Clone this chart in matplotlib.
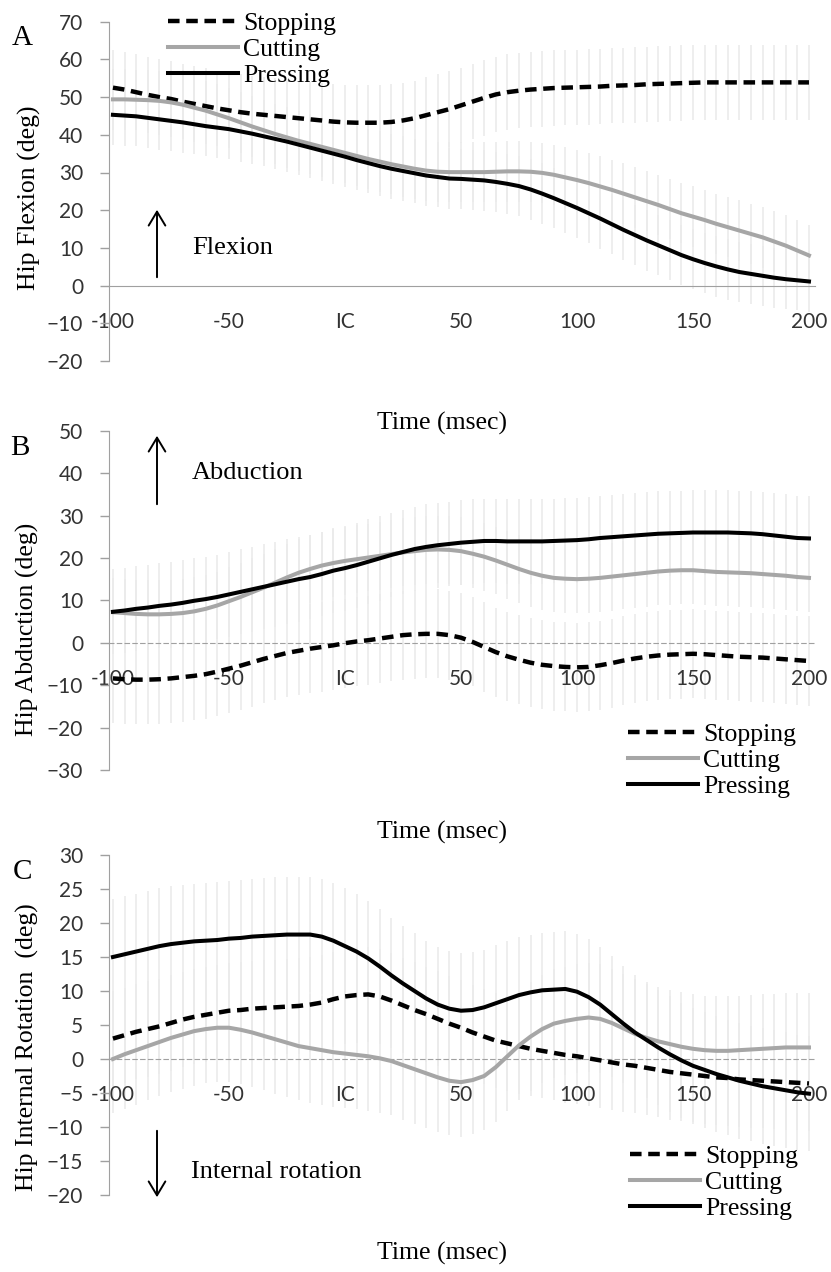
import numpy as np
import matplotlib
matplotlib.use("Agg")
import matplotlib.pyplot as plt

# time axis (ms), one sample every 5 ms
t = np.arange(-100, 201, 5)
tick_pos = [-100, -50, 0, 50, 100, 150, 200]
tick_lab = ["-100", "-50", "IC", "50", "100", "150", "200"]

# Panel A: hip flexion
flex_stop = [52.5, 52.0, 51.3, 50.6, 50.0, 49.5, 48.8, 48.2, 47.6, 47.0, 46.5, 46.0, 45.6, 45.3, 45.0, 44.7,
             44.4, 44.1, 43.8, 43.5, 43.3, 43.2, 43.2, 43.2, 43.4, 43.8, 44.4, 45.2, 46.0, 46.8, 47.8, 48.8,
             49.8, 50.7, 51.3, 51.7, 52.0, 52.2, 52.4, 52.5, 52.6, 52.7, 52.8, 53.0, 53.1, 53.2, 53.4, 53.5,
             53.6, 53.7, 53.8, 53.9, 53.9, 53.9, 53.9, 53.9, 53.9, 53.9, 53.9, 53.9, 53.9]
flex_cut = [49.4, 49.4, 49.3, 49.2, 49.0, 48.6, 48.0, 47.2, 46.4, 45.4, 44.4, 43.3, 42.2, 41.2, 40.2, 39.3,
            38.4, 37.6, 36.8, 36.0, 35.2, 34.4, 33.6, 32.9, 32.2, 31.6, 31.0, 30.5, 30.2, 30.1, 30.1, 30.1,
            30.1, 30.2, 30.3, 30.3, 30.2, 29.9, 29.4, 28.7, 28.0, 27.2, 26.3, 25.4, 24.4, 23.4, 22.4, 21.4,
            20.3, 19.2, 18.3, 17.4, 16.4, 15.5, 14.6, 13.7, 12.8, 11.7, 10.6, 9.3, 8.0]
flex_press = [45.3, 45.1, 44.9, 44.5, 44.1, 43.7, 43.3, 42.8, 42.3, 41.9, 41.5, 40.9, 40.3, 39.6, 38.9, 38.2,
              37.4, 36.6, 35.8, 35.0, 34.2, 33.3, 32.5, 31.7, 31.0, 30.4, 29.8, 29.2, 28.8, 28.4, 28.3, 28.1,
              27.9, 27.5, 27.0, 26.4, 25.5, 24.4, 23.2, 21.9, 20.6, 19.2, 17.8, 16.3, 14.8, 13.4, 12.0, 10.7,
              9.4, 8.1, 7.0, 6.0, 5.1, 4.3, 3.6, 3.1, 2.6, 2.1, 1.7, 1.4, 1.1]
flex_sd = [10, 8, 8]

# Panel B: hip abduction
abd_stop = [-8.4, -8.6, -8.7, -8.7, -8.6, -8.4, -8.1, -7.8, -7.4, -6.8, -6.1, -5.4, -4.6, -3.8, -3.1, -2.4,
            -1.9, -1.4, -1.0, -0.6, -0.1, 0.3, 0.6, 1.0, 1.4, 1.8, 2.0, 2.1, 2.1, 1.8, 1.2, 0.2,
            -1.0, -2.2, -3.2, -4.0, -4.7, -5.2, -5.5, -5.7, -5.8, -5.7, -5.3, -4.8, -4.2, -3.7, -3.3, -3.0,
            -2.8, -2.7, -2.6, -2.7, -2.9, -3.1, -3.3, -3.4, -3.5, -3.7, -3.9, -4.1, -4.3]
abd_cut = [7.2, 7.0, 6.8, 6.7, 6.7, 6.8, 7.0, 7.4, 8.0, 8.8, 9.8, 10.8, 11.9, 13.0, 14.2, 15.4,
           16.5, 17.4, 18.2, 18.8, 19.3, 19.7, 20.1, 20.5, 20.9, 21.3, 21.6, 21.9, 22.0, 21.9, 21.6, 21.0,
           20.3, 19.4, 18.4, 17.4, 16.5, 15.8, 15.3, 15.1, 15.0, 15.1, 15.3, 15.6, 15.9, 16.2, 16.5, 16.8,
           17.0, 17.1, 17.1, 16.9, 16.7, 16.6, 16.5, 16.4, 16.2, 16.0, 15.8, 15.5, 15.3]
abd_press = [7.3, 7.6, 8.0, 8.3, 8.7, 9.0, 9.4, 9.9, 10.3, 10.8, 11.4, 12.0, 12.6, 13.2, 13.8, 14.4,
             15.0, 15.5, 16.2, 17.0, 17.6, 18.3, 19.1, 19.9, 20.7, 21.4, 22.1, 22.6, 23.0, 23.3, 23.6, 23.8,
             24.0, 24.0, 23.9, 23.9, 23.9, 23.9, 24.0, 24.1, 24.2, 24.4, 24.7, 24.9, 25.1, 25.3, 25.5, 25.7,
             25.8, 25.9, 26.0, 26.0, 26.0, 26.0, 25.9, 25.8, 25.6, 25.3, 25.0, 24.7, 24.6]
abd_sd = [10.5, 8, 10]

# Panel C: hip internal rotation
rot_stop = [3.0, 3.5, 4.0, 4.4, 4.8, 5.3, 5.8, 6.2, 6.5, 6.8, 7.1, 7.2, 7.4, 7.5, 7.6, 7.7,
            7.8, 8.0, 8.3, 8.8, 9.2, 9.4, 9.5, 9.2, 8.6, 7.9, 7.2, 6.6, 5.9, 5.2, 4.6, 3.9,
            3.3, 2.7, 2.3, 1.9, 1.5, 1.2, 0.9, 0.6, 0.4, 0.1, -0.2, -0.5, -0.8, -1.0, -1.3, -1.6,
            -1.9, -2.1, -2.3, -2.5, -2.7, -2.8, -3.0, -3.1, -3.2, -3.3, -3.4, -3.5, -3.6]
rot_cut = [0.0, 0.7, 1.3, 1.9, 2.5, 3.1, 3.6, 4.1, 4.4, 4.6, 4.6, 4.3, 3.9, 3.4, 2.9, 2.4,
           1.9, 1.6, 1.3, 1.0, 0.8, 0.6, 0.4, 0.1, -0.3, -0.9, -1.5, -2.1, -2.7, -3.2, -3.4, -3.1,
           -2.5, -1.2, 0.4, 2.0, 3.3, 4.4, 5.2, 5.6, 5.9, 6.1, 5.9, 5.3, 4.5, 3.7, 3.1, 2.6,
           2.2, 1.8, 1.5, 1.3, 1.2, 1.2, 1.3, 1.4, 1.5, 1.6, 1.7, 1.7, 1.7]
rot_press = [15.0, 15.4, 15.8, 16.2, 16.6, 16.9, 17.1, 17.3, 17.4, 17.5, 17.7, 17.8, 18.0, 18.1, 18.2, 18.3,
             18.3, 18.3, 18.0, 17.4, 16.6, 15.8, 14.8, 13.6, 12.3, 11.1, 10.0, 8.9, 8.0, 7.4, 7.1, 7.2,
             7.6, 8.2, 8.8, 9.4, 9.8, 10.1, 10.2, 10.3, 9.9, 9.1, 8.0, 6.6, 5.2, 3.9, 2.8, 1.7,
             0.7, -0.2, -1.0, -1.6, -2.2, -2.7, -3.2, -3.6, -4.0, -4.3, -4.6, -4.9, -5.1]
rot_sd = [7, 8, 8.5]

names = ["Stopping", "Cutting", "Pressing"]

W, H = 831, 1272
fig = plt.figure(figsize=(W / 100, H / 100), dpi=100)

serif = "Liberation Serif"
sans = "Lato"
axis_gray = "#a0a0a0"


def px(x, y):
    return x / W, 1 - y / H


def panel(rect, series, sds, ylim, yticks, ylabel, label_xy, zero_dashed):
    ax = fig.add_axes(rect)
    for s, sd in zip(series, sds):
        m = np.array(s)
        ax.vlines(t, m - sd, m + sd, color="#ebebeb", lw=1.2, zorder=1)
    l1, = ax.plot(t, series[0], color="black", lw=3.2, dashes=(2.6, 1.5), zorder=3)
    l2, = ax.plot(t, series[1], color="#a6a6a6", lw=2.9, zorder=3)
    l3, = ax.plot(t, series[2], color="black", lw=2.9, zorder=4)
    ax.set_xlim(-101.7, 202.6)
    ax.set_ylim(*ylim)
    ax.set_yticks(yticks)
    ax.set_xticks(tick_pos)
    ax.set_xticklabels(tick_lab)
    for side in ["top", "right"]:
        ax.spines[side].set_visible(False)
    ax.spines["left"].set_color(axis_gray)
    ax.spines["bottom"].set_position(("data", 0))
    ax.spines["bottom"].set_color(axis_gray)
    if zero_dashed:
        ax.spines["bottom"].set_linestyle((0, (4, 3)))
        ax.spines["bottom"].set_linewidth(0.8)
    ax.spines["bottom"].set_zorder(2)
    ax.tick_params(axis="y", direction="out", length=6.5, width=1, color=axis_gray,
                   pad=12, labelsize=15, labelcolor="#333333")
    ax.tick_params(axis="x", length=0, pad=19, labelsize=15, labelcolor="#333333")
    for lab in ax.get_xticklabels() + ax.get_yticklabels():
        lab.set_fontfamily(sans)
    ax.set_ylabel(ylabel, fontfamily=serif, fontsize=18.5, va="center", ha="center")
    ax.yaxis.set_label_coords(*label_xy)
    return ax, [l1, l2, l3]


left, width = 109 / W, (815 - 109) / W
axA, hA = panel([left, 1 - 361 / H, width, (361 - 21.7) / H],
                [flex_stop, flex_cut, flex_press], flex_sd, (-20, 70), range(-20, 71, 10),
                "Hip Flexion (deg)", (-0.112, 0.48), False)
axB, hB = panel([left, 1 - 770 / H, width, (770 - 430.7) / H],
                [abd_stop, abd_cut, abd_press], abd_sd, (-30, 50), range(-30, 51, 10),
                "Hip Abduction (deg)", (-0.115, 0.413), True)
axC, hC = panel([left, 1 - 1195 / H, width, (1195 - 855) / H],
                [rot_stop, rot_cut, rot_press], rot_sd, (-20, 30), range(-20, 31, 5),
                "Hip Internal Rotation  (deg)", (-0.115, 0.435), True)

leg_font = {"family": serif, "size": 18.5}
for ax, h, (lx, ly) in [(axA, hA, (168, 12)), (axB, hB, (628, 723)), (axC, hC, (630, 1145))]:
    ax.legend(h, names, loc="upper left", bbox_to_anchor=px(lx, ly), bbox_transform=fig.transFigure,
              frameon=False, borderpad=0, borderaxespad=0, handlelength=2.72, handletextpad=0.2,
              labelspacing=0.12, prop=leg_font)

# panel letters
for letter, (x, y) in [("A", (22, 38)), ("B", (20, 448)), ("C", (22, 872))]:
    fig.text(*px(x, y), letter, fontfamily=serif, fontsize=21, ha="center", va="center")

# x axis titles
for y in [423, 832, 1253]:
    fig.text(*px(442, y), "Time (msec)", fontfamily=serif, fontsize=18.5, ha="center", va="center")

# direction arrows
arrows = [((157, 280), (157, 207), "Flexion", (192, 248)),
          ((157, 507), (157, 433), "Abduction", (192, 473)),
          ((157, 1128), (157, 1200), "Internal rotation", (191, 1172))]
for (x0, y0), (x1, y1), txt, (tx, ty) in arrows:
    fig.add_artist(matplotlib.patches.FancyArrowPatch(
        px(x0, y0), px(x1, y1), transform=fig.transFigure, arrowstyle="->,head_length=0.5,head_width=0.3",
        mutation_scale=20, lw=1.4, color="black"))
    fig.text(*px(tx, ty), txt, fontfamily=serif, fontsize=19, ha="left", va="center")

fig.savefig("out.png", dpi=100)
